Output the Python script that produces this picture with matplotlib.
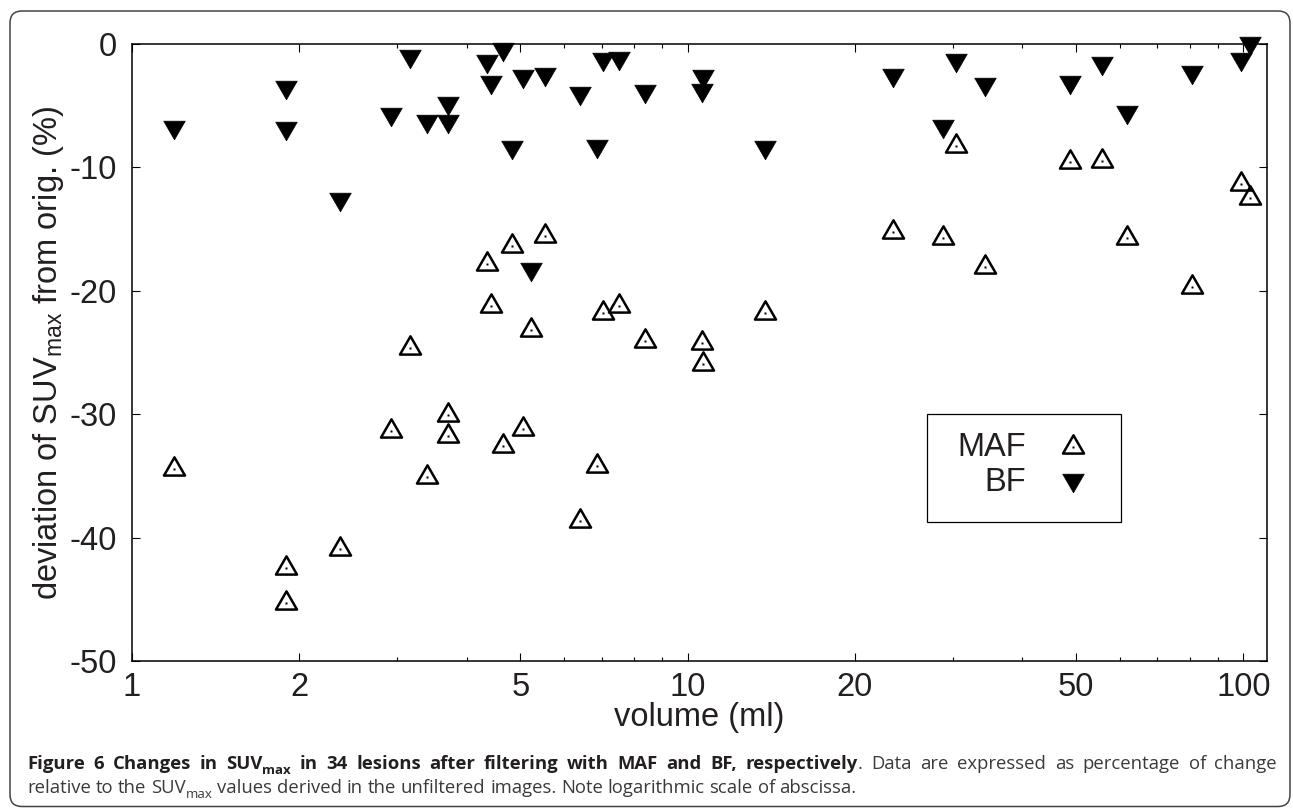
import numpy as np
import matplotlib
matplotlib.use('Agg')
import matplotlib.pyplot as plt
from matplotlib.path import Path
from matplotlib.patches import FancyBboxPatch, Rectangle
from matplotlib.ticker import FixedLocator, FixedFormatter, NullFormatter

# ---------------- data ----------------
volume = [1.19, 1.89, 1.89, 2.37, 2.92, 3.16, 3.40, 3.71, 3.71, 4.35, 4.43, 4.66,
          4.83, 5.06, 5.22, 5.53, 6.40, 6.88, 7.04, 7.51, 8.38, 10.6, 10.67, 13.77,
          23.4, 28.85, 30.4, 34.3, 48.8, 55.6, 61.7, 80.9, 99.0, 102.6]
bf = [-7.0, -3.73, -7.05, -12.8, -5.9, -1.24, -6.5, -5.02, -6.48, -1.65, -3.32, -0.62,
      -8.6, -2.86, -18.45, -2.65, -4.21, -8.5, -1.43, -1.38, -4.08, -4.0, -2.86, -8.6,
      -2.78, -6.9, -1.57, -3.46, -3.32, -1.78, -5.75, -2.5, -1.49, -0.2]
maf = [-34.47, -42.5, -45.3, -40.9, -31.4, -24.6, -35.06, -30.07, -31.8, -17.85, -21.2, -32.6,
       -16.4, -31.2, -23.2, -15.56, -38.65, -34.2, -21.8, -21.2, -24.1, -24.2, -25.9, -21.8,
       -15.26, -15.75, -8.3, -18.05, -9.6, -9.45, -15.75, -19.7, -11.35, -12.45]
series_names = ['MAF', 'BF']
xticks = [1, 2, 5, 10, 20, 50, 100]
xticklabels = ['1', '2', '5', '10', '20', '50', '100']
xminor = [3, 4, 6, 7, 8, 9, 30, 40, 60, 70, 80, 90]
yticks = [-50, -40, -30, -20, -10, 0]
yticklabels = ['-50', '-40', '-30', '-20', '-10', '0']

# ---------------- style ----------------
plt.rcParams['font.family'] = ['Liberation Sans', 'DejaVu Sans']
plt.rcParams['mathtext.fontset'] = 'custom'
plt.rcParams['mathtext.rm'] = 'Liberation Sans'
plt.rcParams['mathtext.it'] = 'Liberation Sans:italic'
plt.rcParams['mathtext.bf'] = 'Liberation Sans:bold'
TXT = '#231f20'
FS = 23.5

W, H = 1293, 808
fig = plt.figure(figsize=(W / 100, H / 100), dpi=100)
ax = fig.add_axes([132 / W, 1 - 661 / H, (1267 - 132) / W, (661 - 44) / H])
ax.set_xscale('log')
ax.set_xlim(1, 10 ** ((1267 - 132) / 555.7))
ax.set_ylim(-50, 0)

h = np.sqrt(3) / 2
up = Path([(0, 2 * h / 3), (-0.5, -h / 3), (0.5, -h / 3), (0, 2 * h / 3)],
          [Path.MOVETO, Path.LINETO, Path.LINETO, Path.CLOSEPOLY])
down = Path([(0, -h / 2), (-0.5, h / 2), (0.5, h / 2), (0, -h / 2)],
            [Path.MOVETO, Path.LINETO, Path.LINETO, Path.CLOSEPOLY])

ms_bf, ms_maf = 15.5, 17.5
ax.plot(volume, bf, ls='none', marker=down, ms=ms_bf, mfc='black', mec='black',
        mew=0.5, clip_on=False, zorder=3)
ax.plot(volume, maf, ls='none', marker=up, ms=ms_maf, mfc='none', mec='black',
        mew=1.8, clip_on=False, zorder=3)
ax.plot(volume, maf, ls='none', marker='s', ms=1.5, mfc='black', mec='none', zorder=3)

ax.xaxis.set_major_locator(FixedLocator(xticks))
ax.xaxis.set_major_formatter(FixedFormatter(xticklabels))
ax.xaxis.set_minor_locator(FixedLocator(xminor))
ax.xaxis.set_minor_formatter(NullFormatter())
ax.yaxis.set_major_locator(FixedLocator(yticks))
ax.yaxis.set_major_formatter(FixedFormatter(yticklabels))
ax.tick_params(which='both', direction='in', top=True, right=True, width=0.8,
               color='black', labelcolor=TXT, labelsize=FS)
ax.tick_params(which='major', length=6)
ax.tick_params(which='minor', length=3)
ax.tick_params(axis='x', pad=8)
ax.tick_params(axis='y', pad=11)
for s in ax.spines.values():
    s.set_linewidth(1.1)
    s.set_color('black')

ax.set_xlabel('volume (ml)', fontsize=FS, color=TXT)
ax.set_ylabel(r'deviation of SUV$_{\mathrm{max}}$ from orig. (%)', fontsize=FS, color=TXT)
ax.xaxis.set_label_coords(0.5, -0.066)
ax.yaxis.set_label_coords(-0.058, 0.5)

# ---------------- legend (drawn by hand, text left / marker right) ----------------
lx0, lx1, ly0, ly1 = 0.7004, 0.8714, 0.2253, 0.4003
ax.add_patch(Rectangle((lx0, ly0), lx1 - lx0, ly1 - ly0, transform=ax.transAxes,
                       fill=False, ec='black', lw=0.9, zorder=4))
for name, yy in zip(series_names, [0.3468, 0.2885]):
    ax.text(0.7877, yy, name, transform=ax.transAxes, ha='right', va='center',
            fontsize=FS, color=TXT, zorder=5)
ax.plot([0.829], [0.3468], transform=ax.transAxes, ls='none', marker=up, ms=ms_maf,
        mfc='none', mec='black', mew=1.8, zorder=5)
ax.plot([0.829], [0.3468], transform=ax.transAxes, ls='none', marker='s', ms=1.5,
        mfc='black', mec='none', zorder=5)
ax.plot([0.829], [0.2885], transform=ax.transAxes, ls='none', marker=down, ms=ms_bf,
        mfc='black', mec='black', mew=0.5, zorder=5)

# ---------------- outer rounded frame ----------------
fig.patches.append(FancyBboxPatch((10, 1.5), 1280, H - 11 - 1.5,
                                  boxstyle='round,pad=0,rounding_size=12',
                                  transform=None, fill=False, ec='#444444', lw=1.1))

# ---------------- caption ----------------
renderer = fig.canvas.get_renderer()
CAP_FONT = ['Open Sans', 'DejaVu Sans']


def kw(style, size):
    d = dict(family=CAP_FONT, fontsize=size * (0.72 if style.endswith('s') else 1.0),
             fontweight='bold' if style.startswith('b') else 'normal',
             color='#231f20' if style.startswith('b') else '#3a3a3a')
    return d


def run_width(text, style, size):
    t = fig.text(0, 0, text, **kw(style, size))
    w = t.get_window_extent(renderer).width
    t.remove()
    return w


def split_words(runs):
    words = [[]]
    for text, style in runs:
        parts = text.split(' ')
        for i, p in enumerate(parts):
            if i > 0:
                words.append([])
            if p:
                words[-1].append((p, style))
    return [w for w in words if w]


def place_line(runs, x0, x1, y_row, size, justify):
    words = split_words(runs)
    widths = [sum(run_width(t, s, size) for t, s in w) for w in words]
    if justify:
        gap = (x1 - x0 - sum(widths)) / (len(words) - 1)
    else:
        gap = run_width('n n', 'n', size) - run_width('nn', 'n', size)
    x = x0
    for w, wd in zip(words, widths):
        for t, s in w:
            yoff = -4.5 if s.endswith('s') else 0
            fig.text(x / W, (H - y_row + yoff) / H, t, va='baseline', ha='left', **kw(s, size))
            x += run_width(t, s, size)
        x += gap


line1 = [('Figure 6 Changes in SUV', 'b'), ('max', 'bs'),
         (' in 34 lesions after filtering with MAF and BF, respectively', 'b'),
         ('. Data are expressed as percentage of change', 'n')]
line2 = [('relative to the SUV', 'n'), ('max', 'ns'),
         (' values derived in the unfiltered images. Note logarithmic scale of abscissa.', 'n')]

cap_size = 13.3
place_line(line1, 27, 1277, 769, cap_size, True)
place_line(line2, 27, 1277, 793, cap_size, False)

fig.savefig('out.png', dpi=100)
